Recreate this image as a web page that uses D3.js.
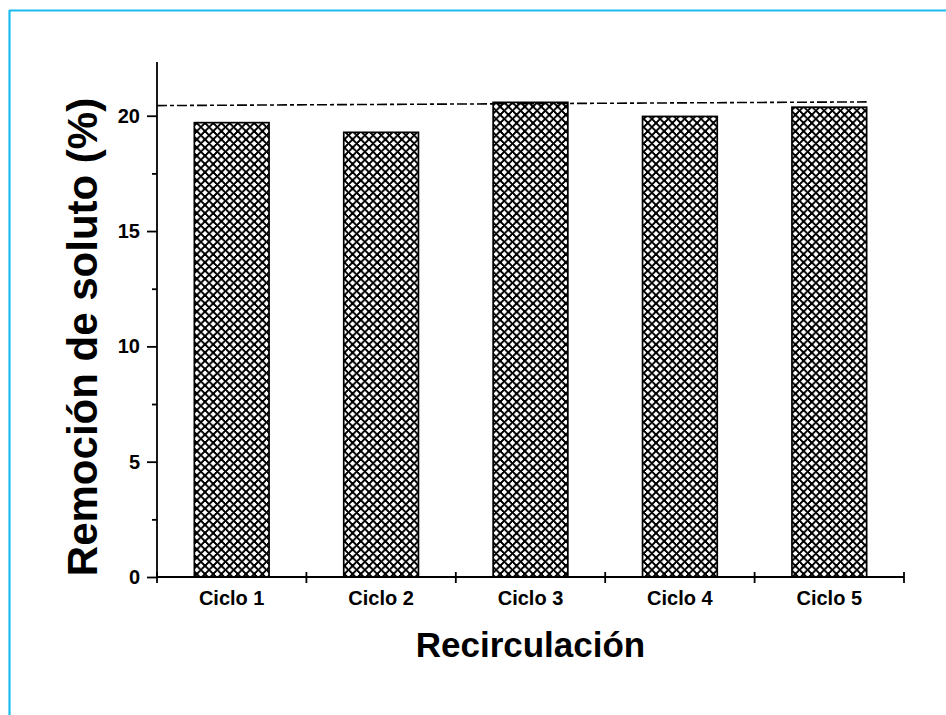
<!DOCTYPE html>
<html>
<head>
<meta charset="utf-8">
<script src="https://cdn.jsdelivr.net/npm/d3@7"></script>
<style>
  html, body { margin: 0; padding: 0; background: #fff; }
  svg { display: block; }
  text { font-family: "Liberation Sans", Arial, sans-serif; font-weight: bold; fill: #000; }
</style>
</head>
<body>
<svg id="chart" width="946" height="715"></svg>
<script>
// Solute removal per recirculation cycle
const categories = ["Ciclo 1", "Ciclo 2", "Ciclo 3", "Ciclo 4", "Ciclo 5"];
const removal = [19.70, 19.28, 20.58, 19.97, 20.37];
const yTicks = [0, 5, 10, 15, 20];
const yMinorTicks = [2.5, 7.5, 12.5, 17.5];
// Reference level drawn as a dash-dot line (x in cycle units)
const refLineX = [0.5, 5.25];
const refLineY = [20.44, 20.60];
const xLabel = "Recirculación";
const yLabel = "Remoción de soluto (%)";

const svg = d3.select("#chart");

// Frame lines along the top and left edges
svg.append("line").attr("x1", 9).attr("x2", 946).attr("y1", 10.5).attr("y2", 10.5)
  .attr("stroke", "#1bbdf0").attr("stroke-width", 2.2);
svg.append("line").attr("x1", 9.5).attr("x2", 9.5).attr("y1", 10).attr("y2", 715)
  .attr("stroke", "#1bbdf0").attr("stroke-width", 2.2);

const x = d3.scaleLinear().domain([0.5, 5.5]).range([157, 904]);
const y = d3.scaleLinear().domain([0, 22.33]).range([577, 62]);
const barW = 0.5;

// Crosshatch fill
const P = 8.2;
const defs = svg.append("defs");
const pat = defs.append("pattern").attr("id", "hatch")
  .attr("patternUnits", "userSpaceOnUse").attr("width", P).attr("height", P);
pat.append("rect").attr("width", P).attr("height", P).attr("fill", "#fff");
pat.append("path")
  .attr("d", `M0,0 L${P},${P} M0,${P} L${P},0 M-1,1 L1,-1 M${P-1},${P+1} L${P+1},${P-1} M-1,${P-1} L1,${P+1} M${P-1},-1 L${P+1},1`)
  .attr("stroke", "#000").attr("stroke-width", 1.35)
  .attr("shape-rendering", "crispEdges");

// Bars
svg.append("g").selectAll("rect").data(removal).join("rect")
  .attr("x", (d, i) => x(i + 1 - barW / 2))
  .attr("width", (d, i) => x(i + 1 + barW / 2) - x(i + 1 - barW / 2))
  .attr("y", d => y(d))
  .attr("height", d => y(0) - y(d))
  .attr("fill", "url(#hatch)")
  .attr("stroke", "#000").attr("stroke-width", 1.7);

// Dash-dot reference line
svg.append("line")
  .attr("x1", x(refLineX[0])).attr("x2", x(refLineX[1]))
  .attr("y1", y(refLineY[0])).attr("y2", y(refLineY[1]))
  .attr("stroke", "#000").attr("stroke-width", 1.6)
  .attr("stroke-dasharray", "10,3,4,3");

// Y axis
const yAxis = d3.axisLeft(y).tickValues(yTicks).tickSize(10).tickPadding(7).tickFormat(d3.format("d"));
const gy = svg.append("g").attr("transform", `translate(${x(0.5)},0)`).call(yAxis);
gy.select(".domain").attr("d", `M0,${y(22.33)}V${y(0)}`).attr("stroke-width", 1.8);
gy.selectAll(".tick line").attr("stroke-width", 1.8);
gy.selectAll(".tick text").style("font-size", "20px").style("font-family", "Liberation Sans, Arial, sans-serif").style("font-weight", "bold");
const yMinor = d3.axisLeft(y).tickValues(yMinorTicks).tickSize(5).tickFormat("");
const gym = svg.append("g").attr("transform", `translate(${x(0.5)},0)`).call(yMinor);
gym.select(".domain").remove();
gym.selectAll(".tick line").attr("stroke-width", 1.8);

// X axis: ticks at category boundaries crossing the axis line
const xBounds = d3.range(categories.length + 1).map(i => i + 0.5);
const gx = svg.append("g").attr("transform", `translate(0,${y(0)})`);
gx.append("line").attr("x1", x(0.5)).attr("x2", x(5.5)).attr("y1", 0).attr("y2", 0)
  .attr("stroke", "#000").attr("stroke-width", 1.8);
gx.selectAll(".xt").data(xBounds).join("line").attr("class", "xt")
  .attr("x1", d => x(d)).attr("x2", d => x(d)).attr("y1", -5).attr("y2", 6)
  .attr("stroke", "#000").attr("stroke-width", 1.8);
gx.selectAll(".xl").data(categories).join("text").attr("class", "xl")
  .attr("x", (d, i) => x(i + 1)).attr("y", 28)
  .attr("text-anchor", "middle").style("font-size", "20px").text(d => d);

// Axis titles
svg.append("text").attr("x", (x(0.5) + x(5.5)) / 2).attr("y", 657)
  .attr("text-anchor", "middle").style("font-size", "35px").text(xLabel);
svg.append("text").attr("transform", `translate(97,337) rotate(-90)`)
  .attr("text-anchor", "middle").style("font-size", "42px").text(yLabel);
</script>
</body>
</html>
